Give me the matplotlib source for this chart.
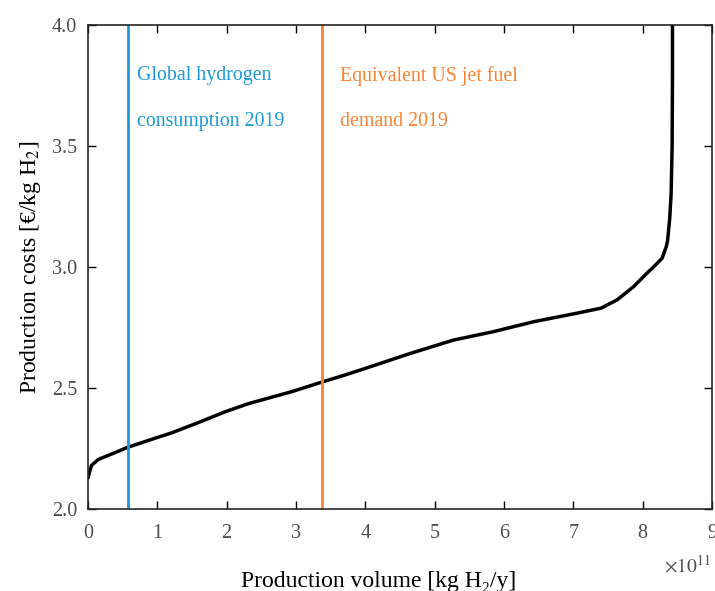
import numpy as np
import matplotlib.pyplot as plt

# supply curve (volume in 1e11 kg H2/y, cost in EUR/kg H2)
volume = [0.0, 0.01, 0.05, 0.15, 0.245, 0.39, 0.573, 0.92, 1.21, 1.59, 1.98, 2.31,
          2.65, 2.94, 3.39, 3.71, 4.0, 4.65, 5.27, 5.85, 6.43, 7.05, 7.40, 7.63,
          7.87, 8.06, 8.16, 8.28, 8.34, 8.36, 8.39, 8.41, 8.425, 8.43, 8.43]
cost = [2.128, 2.14, 2.18, 2.205, 2.216, 2.233, 2.255, 2.288, 2.315, 2.357, 2.402, 2.435,
        2.462, 2.485, 2.526, 2.554, 2.581, 2.643, 2.698, 2.733, 2.774, 2.809, 2.83, 2.864,
        2.919, 2.974, 3.001, 3.036, 3.084, 3.11, 3.20, 3.30, 3.50, 3.80, 4.05]

h2_consumption_2019 = 0.58   # 1e11 kg/y
us_jet_fuel_2019 = 3.38      # 1e11 kg/y

blue = '#1a9ad7'
orange = '#f98331'

plt.rcParams['font.family'] = ['Liberation Serif', 'DejaVu Serif']
plt.rcParams['mathtext.fontset'] = 'stix'

fig = plt.figure(figsize=(7.15, 5.91), dpi=100)
ax = fig.add_axes([88/715, 82/591, 624/715, 484/591])

ax.plot(np.array(volume) * 1e11, cost, color='black', linewidth=2.5,
        solid_joinstyle='round', solid_capstyle='round')
ax.axvline(h2_consumption_2019 * 1e11, color=blue, linewidth=2)
ax.axvline(us_jet_fuel_2019 * 1e11, color=orange, linewidth=2)

ax.text(0.71e11, 3.79, 'Global hydrogen', color=blue, fontsize=14.3, va='center')
ax.text(0.71e11, 3.60, 'consumption 2019', color=blue, fontsize=14.3, va='center')
ax.text(3.64e11, 3.79, 'Equivalent US jet fuel', color=orange, fontsize=14.3, va='center')
ax.text(3.64e11, 3.60, 'demand 2019', color=orange, fontsize=14.3, va='center')

ax.set_xlim(0, 9e11)
ax.set_ylim(2.0, 4.0)
ax.set_xticks(np.arange(0, 10) * 1e11)
ax.set_xticklabels([str(i) for i in range(10)])
ax.set_yticks([2.0, 2.5, 3.0, 3.5, 4.0])
ax.set_yticklabels(['2.0', '2.5', '3.0', '3.5', '4.0'])
ax.tick_params(direction='in', top=True, right=True, length=6, width=1,
               labelsize=14.5, labelcolor='#4d4d4d')
ax.tick_params(axis='x', pad=11)
ax.tick_params(axis='y', pad=8)
for s in ax.spines.values():
    s.set_linewidth(1.2)
    s.set_color('#262626')

fig.text(711/715, 1 - 565/591, r'$\times10^{11}$', ha='right', va='center',
         fontsize=14, color='#4d4d4d')
ax.set_xlabel('Production volume [kg H₂/y]', fontsize=17)
ax.xaxis.set_label_coords(0.466, -0.128)
ax.set_ylabel(r'Production costs [€/kg H$_2$]', fontsize=17, labelpad=6)

fig.savefig('out.png', dpi=100)
